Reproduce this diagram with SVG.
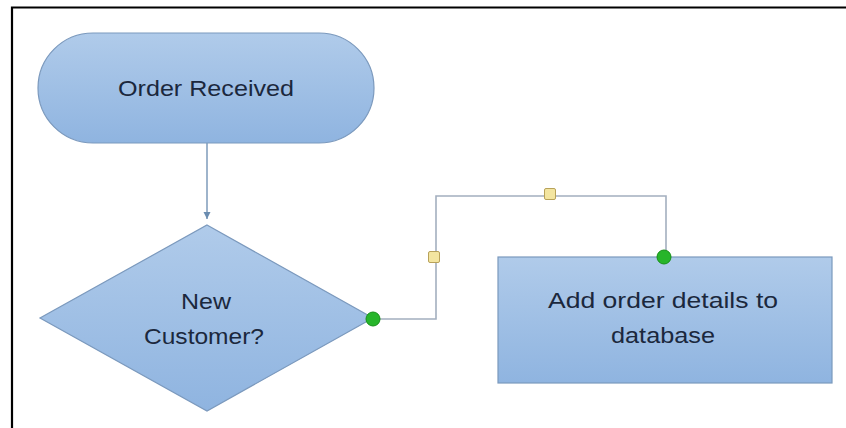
<svg xmlns="http://www.w3.org/2000/svg" width="846" height="428" viewBox="0 0 846 428">
<defs>
<linearGradient id="blue" x1="0" y1="0" x2="0" y2="1">
<stop offset="0" stop-color="#b0cbea"/>
<stop offset="1" stop-color="#8fb4e0"/>
</linearGradient>
<marker id="arr" markerWidth="8" markerHeight="8" refX="7" refY="4" orient="auto" markerUnits="userSpaceOnUse">
<path d="M0,0.5 L7,4 L0,7.5 z" fill="#6a8cb0"/>
</marker>
<style>
.shape{fill:url(#blue);stroke:#7b99bd;stroke-width:1.2}
.lbl{font-family:"Liberation Sans",Arial,sans-serif;font-size:22px;fill:#1b283d;text-anchor:middle}
.conn{fill:none;stroke:#a3afbf;stroke-width:1.6}
.flow{fill:none;stroke:#6a8cb0;stroke-width:1.3}
.handle{fill:#f3e5a0;stroke:#b8a25a;stroke-width:1}
.dot{fill:#27b52a;stroke:#179018;stroke-width:1}
</style>
</defs>
<rect width="846" height="428" fill="#ffffff"/>
<path d="M12,428 V7.5 H846" fill="none" stroke="#000" stroke-width="2.2"/>
<g id="connectors">
<path class="flow" d="M207,143 V219" marker-end="url(#arr)"/>
<path class="conn" d="M373,319 H436 V196 H666 V257"/>
</g>
<g id="order-received">
<rect class="shape" x="38" y="33" width="336" height="110" rx="55" ry="55"/>
<text class="lbl" x="206" y="96" textLength="176" lengthAdjust="spacingAndGlyphs">Order Received</text>
</g>
<g id="new-customer">
<polygon class="shape" points="207,225 373,318 207,411 40,318"/>
<text class="lbl" x="206" y="309" textLength="50" lengthAdjust="spacingAndGlyphs">New</text>
<text class="lbl" x="204" y="344" textLength="120" lengthAdjust="spacingAndGlyphs">Customer?</text>
</g>
<g id="add-order">
<rect class="shape" x="498" y="257" width="334" height="126"/>
<text class="lbl" x="663" y="308" textLength="230" lengthAdjust="spacingAndGlyphs">Add order details to</text>
<text class="lbl" x="663" y="343" textLength="104" lengthAdjust="spacingAndGlyphs">database</text>
</g>
<g id="handles">
<rect class="handle" x="428.5" y="251.5" width="11" height="11" rx="1.5"/>
<rect class="handle" x="544.5" y="188.5" width="11" height="11" rx="1.5"/>
<circle class="dot" cx="373" cy="319" r="7"/>
<circle class="dot" cx="664" cy="257" r="7"/>
</g>
</svg>
